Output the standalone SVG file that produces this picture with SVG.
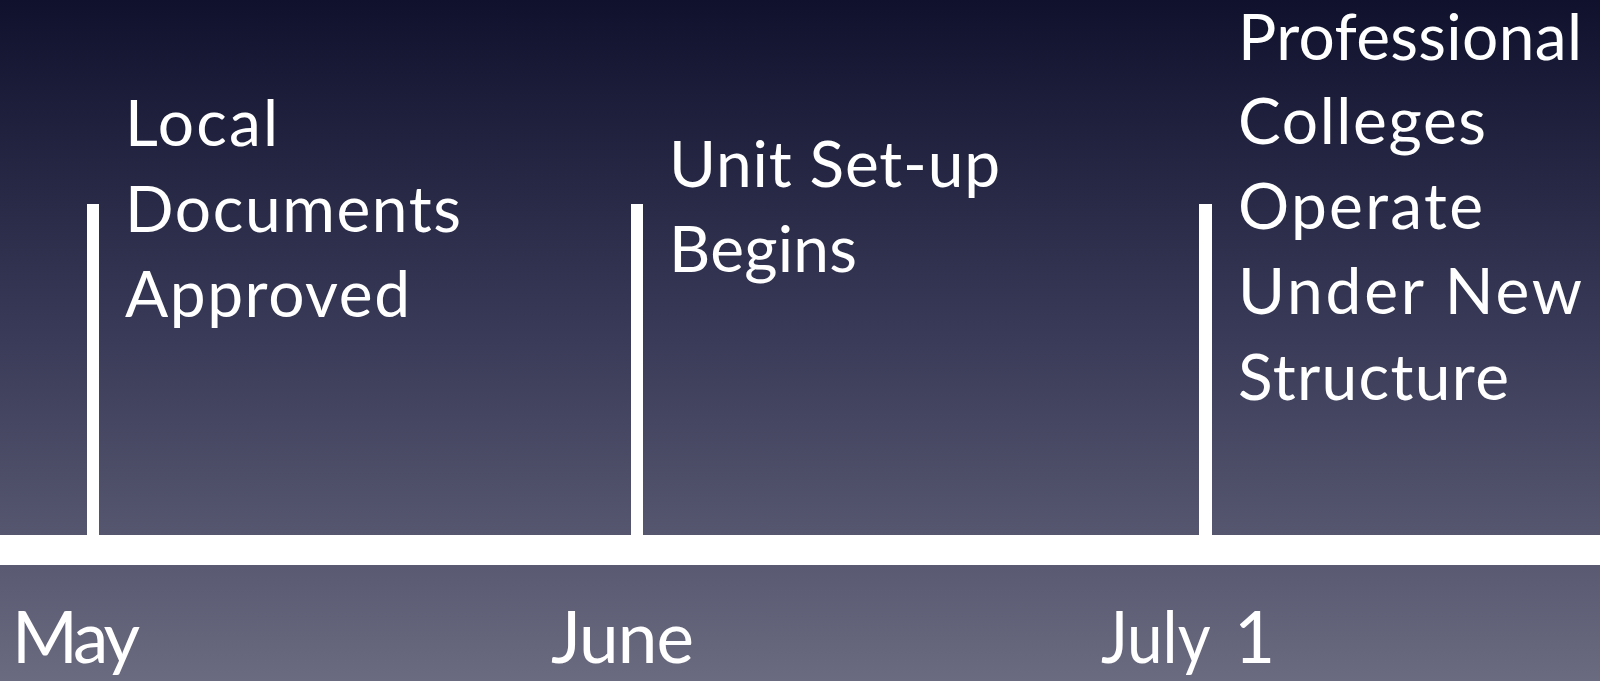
<svg xmlns="http://www.w3.org/2000/svg" width="1600" height="681" viewBox="0 0 1600 681">
  <defs>
    <linearGradient id="bg" x1="0" y1="0" x2="0" y2="1">
      <stop offset="0" stop-color="#0f112d"/>
      <stop offset="0.5" stop-color="#3a3b58"/>
      <stop offset="1" stop-color="#6a6a80"/>
    </linearGradient>
  </defs>
  <style>
    .t { font-family: "Lato", "Open Sans", "Liberation Sans", sans-serif; font-size: 64px; fill: #ffffff; }
    .m { font-family: "Lato", "Open Sans", "Liberation Sans", sans-serif; font-size: 71px; fill: #ffffff; }
    .w { fill: #ffffff; }
  </style>
  <rect x="0" y="0" width="1600" height="681" fill="url(#bg)"/>
  <g id="connectors">
    <rect class="w" x="0" y="535" width="1600" height="30"/>
    <rect class="w" x="87" y="204" width="12" height="332"/>
    <rect class="w" x="631" y="204" width="12" height="332"/>
    <rect class="w" x="1199" y="204" width="13" height="332"/>
  </g>
  <g id="event-local">
    <text class="t" x="125" y="146" textLength="153">Local</text>
    <text class="t" x="125" y="232" textLength="336">Documents</text>
    <text class="t" x="125" y="317" textLength="285">Approved</text>
  </g>
  <g id="event-unit">
    <text class="t" x="669" y="187" textLength="331">Unit Set-up</text>
    <text class="t" x="669" y="272" textLength="188">Begins</text>
  </g>
  <g id="event-professional">
    <text class="t" x="1238" y="60" textLength="344">Professional</text>
    <text class="t" x="1238" y="144" textLength="248">Colleges</text>
    <text class="t" x="1238" y="229" textLength="245">Operate</text>
    <text class="t" x="1238" y="314" textLength="344">Under New</text>
    <text class="t" x="1238" y="400" textLength="271">Structure</text>
  </g>
  <g id="month-may">
    <text class="m" x="12" y="663" textLength="128">May</text>
  </g>
  <g id="month-june">
    <text class="m" x="551" y="663" textLength="143">June</text>
  </g>
  <g id="month-july">
    <text class="m" x="1101" y="663"><tspan textLength="108" lengthAdjust="spacingAndGlyphs">July</tspan> <tspan x="1234">1</tspan></text>
  </g>
</svg>
